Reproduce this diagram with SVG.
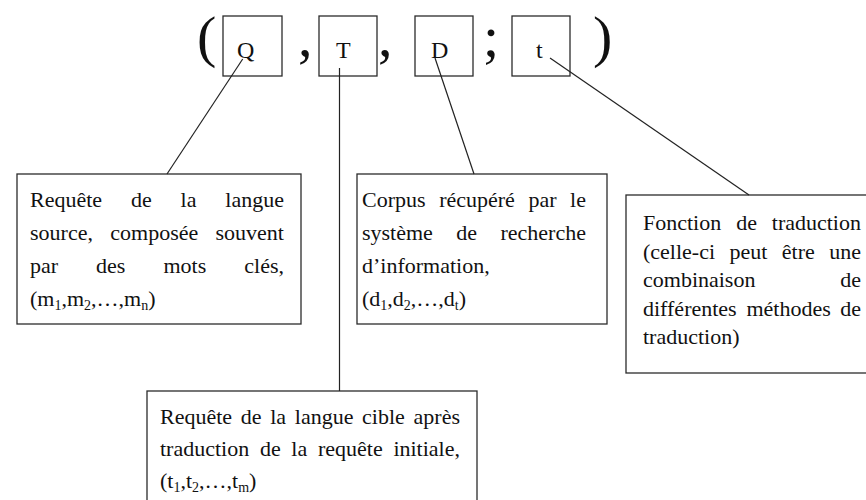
<svg xmlns="http://www.w3.org/2000/svg" width="866" height="500" viewBox="0 0 866 500">
  <style>
    .box { fill: #ffffff; stroke: #2b2b2b; stroke-width: 1.3; }
    .txt { font-family: "Liberation Serif", "Times New Roman", serif; font-size: 22px; fill: #111111; }
    .sub { font-size: 14px; }
    .big { font-family: "Liberation Serif", "Times New Roman", serif; font-size: 58px; fill: #111111; }
    .sym { font-family: "Liberation Serif", "Times New Roman", serif; font-size: 24px; fill: #111111; }
    .link { fill: none; stroke: #222222; stroke-width: 1.2; }
  </style>
  <rect width="866" height="500" fill="#ffffff"/>

  <!-- tuple punctuation -->
  <g id="tuple-punctuation">
    <text class="big" x="197" y="55.5">(</text>
    <text class="big" x="298" y="55.5">,</text>
    <text class="big" x="378" y="55.5">,</text>
    <text class="big" x="483" y="55.5">;</text>
    <text class="big" x="593" y="55.5">)</text>
  </g>

  <!-- tuple slots -->
  <g id="slot-Q">
    <rect class="box" x="223" y="16" width="59" height="60"/>
    <text class="sym" x="237" y="58">Q</text>
  </g>
  <g id="slot-T">
    <rect class="box" x="319" y="16" width="58" height="60"/>
    <text class="sym" x="336" y="58">T</text>
  </g>
  <g id="slot-D">
    <rect class="box" x="415" y="16" width="58" height="60"/>
    <text class="sym" x="431" y="58">D</text>
  </g>
  <g id="slot-t">
    <rect class="box" x="512" y="16" width="58" height="60"/>
    <text class="sym" x="536" y="58">t</text>
  </g>

  <!-- explanation boxes -->
  <g id="note-query">
    <rect class="box" x="17" y="174" width="284" height="150"/>
    <text class="txt" y="207"><tspan x="30">Requête</tspan><tspan x="130.96">de</tspan><tspan x="180.6">la</tspan><tspan x="225.35">langue</tspan></text>
    <text class="txt" y="240"><tspan x="30">source,</tspan><tspan x="110.25">composée</tspan><tspan x="215.56">souvent</tspan></text>
    <text class="txt" y="273"><tspan x="30">par</tspan><tspan x="96.12">des</tspan><tspan x="163.48">mots</tspan><tspan x="244.29">clés,</tspan></text>
    <text class="txt" x="30" y="306">(m<tspan class="sub" dy="4">1</tspan><tspan dy="-4">,m</tspan><tspan class="sub" dy="4">2</tspan><tspan dy="-4">,…,m</tspan><tspan class="sub" dy="4">n</tspan><tspan dy="-4">)</tspan></text>
  </g>

  <g id="note-corpus">
    <rect class="box" x="357" y="174" width="250" height="150"/>
    <text class="txt" y="207"><tspan x="362">Corpus</tspan><tspan x="439.14">récupéré</tspan><tspan x="528.44">par</tspan><tspan x="570.12">le</tspan></text>
    <text class="txt" y="240"><tspan x="362">système</tspan><tspan x="456.31">de</tspan><tspan x="500.51">recherche</tspan></text>
    <text class="txt" x="362" y="273">d’information,</text>
    <text class="txt" x="362" y="306">(d<tspan class="sub" dy="4">1</tspan><tspan dy="-4">,d</tspan><tspan class="sub" dy="4">2</tspan><tspan dy="-4">,…,d</tspan><tspan class="sub" dy="4">t</tspan><tspan dy="-4">)</tspan></text>
  </g>

  <g id="note-translation">
    <rect class="box" x="626" y="195" width="260" height="178"/>
    <text class="txt" y="230"><tspan x="643">Fonction</tspan><tspan x="736.13">de</tspan><tspan x="771.79">traduction</tspan></text>
    <text class="txt" y="258.5"><tspan x="643">(celle-ci</tspan><tspan x="729.5">peut</tspan><tspan x="781.81">être</tspan><tspan x="829.23">une</tspan></text>
    <text class="txt" y="287"><tspan x="643">combinaison</tspan><tspan x="840.23">de</tspan></text>
    <text class="txt" y="315.5"><tspan x="643">différentes</tspan><tspan x="746.49">méthodes</tspan><tspan x="840.23">de</tspan></text>
    <text class="txt" x="643" y="344">traduction)</text>
  </g>

  <g id="note-target">
    <rect class="box" x="147" y="391" width="330" height="120"/>
    <text class="txt" y="424"><tspan x="160">Requête</tspan><tspan x="240.77">de</tspan><tspan x="270.22">la</tspan><tspan x="294.78">langue</tspan><tspan x="362.11">cible</tspan><tspan x="413.58">après</tspan></text>
    <text class="txt" y="456"><tspan x="160">traduction</tspan><tspan x="259.9">de</tspan><tspan x="291.36">la</tspan><tspan x="317.93">requête</tspan><tspan x="393.38">initiale,</tspan></text>
    <text class="txt" x="160" y="488">(t<tspan class="sub" dy="4">1</tspan><tspan dy="-4">,t</tspan><tspan class="sub" dy="4">2</tspan><tspan dy="-4">,…,t</tspan><tspan class="sub" dy="4">m</tspan><tspan dy="-4">)</tspan></text>
  </g>

  <!-- connectors from each slot down to its explanation -->
  <g id="connectors">
    <path class="link" d="M242.7,59 L167,174"/>
    <path class="link" d="M339.5,68 L339.5,391"/>
    <path class="link" d="M435,58 L474,174"/>
    <path class="link" d="M550,58 L749,195"/>
  </g>
</svg>
